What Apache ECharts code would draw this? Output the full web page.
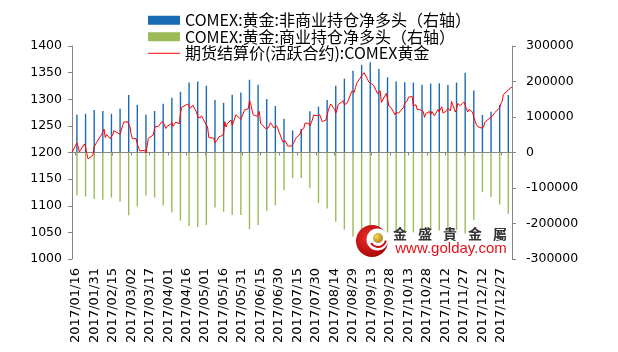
<!DOCTYPE html>
<html>
<head>
<meta charset="utf-8">
<script src="https://cdn.jsdelivr.net/npm/echarts@6/dist/echarts.min.js"></script>
<style>
  html, body { margin: 0; padding: 0; background: #fff; }
  #chart { width: 618px; height: 352px; }
</style>
</head>
<body>
<div id="chart"></div>
<script>
// axis runs day by day, labels every 15 days from 2017/01/16
const axisStart = '2017-01-13';
const axisDays = 358;

// COT net positions, weekly (Tuesdays) from 2017-01-17
const cotStart = '2017-01-17';
const nonCommNet = [
  106000, 109000, 120000, 117000, 109000, 123000, 162000, 134000, 106000, 117000,
  137000, 154000, 171000, 197000, 200000, 188000, 148000, 140000, 163000, 169000,
  205000, 191000, 151000, 131000, 95000, 62000, 67000, 116000, 129000, 148000,
  188000, 208000, 230000, 247000, 254000, 235000, 212000, 200000, 198000, 197000,
  191000, 194000, 195000, 190000, 197000, 225000, 175000, 106000, 115000, 134000,
  162000
];
const commNet = [
  -121000, -124000, -131000, -133000, -127000, -139000, -177000, -152000, -121000, -127000,
  -149000, -169000, -192000, -207000, -210000, -204000, -155000, -167000, -176000, -176000,
  -216000, -204000, -164000, -149000, -106000, -72000, -72000, -101000, -142000, -158000,
  -195000, -217000, -237000, -245000, -252000, -242000, -225000, -220000, -222000, -225000,
  -215000, -220000, -220000, -215000, -218000, -228000, -190000, -112000, -125000, -147000,
  -173000
];

// settlement price, one value per weekday (null = no settlement)
const priceJan = [1200, null, 1218, 1211, 1201, 1205, 1216, 1211, 1198, 1188, 1191, 1195, 1211];
const priceFeb = [1209, 1219, 1220, 1234, 1236, 1244, 1228, 1234, 1226, 1228, 1233, 1241, 1239, null, 1234, 1237, 1250, 1257, 1258, 1253];
const priceMar = [1249, 1234, 1226, 1226, 1216, 1209, 1203, 1202, 1204, 1199, 1201, 1227, 1230, 1233, 1245, 1249, 1248, 1249, 1258, 1256, 1253, 1245, 1249];
const priceApr = [1253, 1257, 1249, 1253, 1257, 1254, 1274, 1285, 1288, null, 1291, 1290, 1283, 1284, 1289, 1276, 1267, 1268, 1265, 1269];
const priceMay = [1256, 1256, 1248, 1228, 1228, 1227, 1218, 1221, 1224, 1229, 1232, 1236, 1258, 1248, 1254, 1261, 1251, 1257, 1256, 1271, null, 1262, 1268];
const priceJun = [1270, 1280, 1282, 1297, 1292, 1280, 1271, 1268, 1268, 1277, 1255, 1256, 1245, 1243, 1246, 1250, 1256, 1246, 1248, 1250, 1245, 1242];
const priceJul = [1220, null, 1222, 1224, 1212, 1212, 1214, 1219, 1218, 1228, 1234, 1242, 1241, 1245, 1255, 1255, 1250, 1250, 1261, 1270, 1269];
const priceAug = [1270, 1271, 1268, 1258, 1261, 1262, 1279, 1286, 1291, 1281, 1274, 1280, 1290, 1291, 1297, 1290, 1291, 1292, 1297, 1315, 1318, 1313, 1322];
const priceSep = [1330, null, 1344, 1344, 1350, 1351, 1332, 1334, 1329, 1329, 1325, 1310, 1311, 1316, 1294, 1297, 1311, 1301, 1288, 1287, 1284];
const priceOct = [1271, 1275, 1276, 1274, 1276, 1285, 1293, 1293, 1297, 1304, 1305, 1287, 1286, 1290, 1281, 1280, 1277, 1277, 1266, 1273, 1277, 1271];
const priceNov = [1277, 1278, 1269, 1281, 1276, 1282, 1286, 1274, 1278, 1283, 1281, 1278, 1296, 1276, 1281, 1292, null, 1288, 1295, 1294, 1283, 1276];
const priceDec = [1281, 1276, 1266, 1266, 1253, 1249, 1246, 1243, 1248, 1257, 1257, 1265, 1264, 1268, 1270, 1275, null, 1284, 1292, 1296, 1309];
const priceJan18 = [null, 1317, 1315, 1322, 1322];

const seriesNames = [
  'COMEX:黄金:非商业持仓净多头（右轴）',
  'COMEX:黄金:商业持仓净多头（右轴）',
  '期货结算价(活跃合约):COMEX黄金'
];

const DAY = 86400000;
const pad = (n) => (n < 10 ? '0' + n : '' + n);
const fmt = (t) => {
  const d = new Date(t);
  return d.getUTCFullYear() + '/' + pad(d.getUTCMonth() + 1) + '/' + pad(d.getUTCDate());
};

const t0 = Date.parse(axisStart + 'T00:00:00Z');
const categories = [];
for (let i = 0; i < axisDays; i++) categories.push(fmt(t0 + i * DAY));

// bars onto the day axis
const blueData = new Array(axisDays).fill(null);
const greenData = new Array(axisDays).fill(null);
const cotOffset = Math.round((Date.parse(cotStart + 'T00:00:00Z') - t0) / DAY);
nonCommNet.forEach((v, k) => { blueData[cotOffset + k * 7] = v; });
commNet.forEach((v, k) => { greenData[cotOffset + k * 7] = v; });

// prices onto weekdays
const prices = [].concat(priceJan, priceFeb, priceMar, priceApr, priceMay, priceJun,
  priceJul, priceAug, priceSep, priceOct, priceNov, priceDec, priceJan18);
const lineData = new Array(axisDays).fill(null);
let p = 0;
for (let i = 0; i < axisDays; i++) {
  const dow = new Date(t0 + i * DAY).getUTCDay();
  if (dow >= 1 && dow <= 5) lineData[i] = prices[p++];
}

const showTick = (idx) => idx >= 3 && (idx - 3) % 15 === 0;

const chart = echarts.init(document.getElementById('chart'));

// watermark logo (金盛贵金属)
const wmChars = ['金', '盛', '貴', '金', '屬'];
const wmGraphics = [
  { type: 'circle', shape: { cx: 372, cy: 241, r: 16 }, style: { fill: new echarts.graphic.RadialGradient(0.4, 0.4, 0.7, [{ offset: 0, color: '#f03030' }, { offset: 1, color: '#a00000' }]) }, z: 100 },
  { type: 'circle', shape: { cx: 377.5, cy: 239.5, r: 11 }, style: { fill: '#fff' }, z: 101 },
  { type: 'arc', shape: { cx: 378, cy: 239, r: 8, startAngle: 0.2, endAngle: 2.6 }, style: { stroke: '#d01010', lineWidth: 2, fill: null }, z: 102 },
  { type: 'circle', shape: { cx: 378, cy: 238, r: 5 }, style: { fill: new echarts.graphic.RadialGradient(0.35, 0.35, 0.8, [{ offset: 0, color: '#f4d45a' }, { offset: 1, color: '#a67c10' }]) }, z: 103 }
];
wmChars.forEach((c, i) => {
  wmGraphics.push({
    type: 'text', x: 400 + i * 25, y: 234, z: 100,
    style: { text: c, fill: '#333', font: 'bold 14px "Noto Sans CJK TC"', textAlign: 'center', textVerticalAlign: 'middle' }
  });
});
wmGraphics.push({
  type: 'text', x: 451, y: 248.5, z: 100,
  style: { text: 'www.golday.com', fill: '#e8101a', font: '15px "Liberation Sans"', textAlign: 'center', textVerticalAlign: 'middle' }
});

const plain = (v) => String(v);

const option = {
  animation: false,
  backgroundColor: '#fff',
  color: ['#1a6bb5', '#9bbb59', '#ff0000'],
  textStyle: { fontFamily: 'DejaVu Sans' },
  legend: {
    orient: 'vertical',
    left: 148,
    top: 12,
    padding: 0,
    itemWidth: 32,
    itemHeight: 9,
    itemGap: 0,
    symbolKeepAspect: true,
    textStyle: { fontFamily: 'Noto Sans CJK SC', fontSize: 16, lineHeight: 16.5, color: '#000' },
    data: [
      { name: seriesNames[0], icon: 'rect' },
      { name: seriesNames[1], icon: 'rect' },
      { name: seriesNames[2], icon: 'path://M0,0H32V1H0Z', itemStyle: { color: '#ff0000' } }
    ]
  },
  grid: { left: 72, right: 106, top: 46, bottom: 93 },
  xAxis: {
    type: 'category',
    data: categories,
    boundaryGap: false,
    axisLine: { lineStyle: { color: '#868686', width: 1 } },
    axisTick: { interval: showTick, length: 3, lineStyle: { color: '#868686' } },
    axisLabel: { interval: showTick, rotate: 90, margin: 9, fontSize: 13, color: '#000', fontFamily: 'DejaVu Sans' },
    splitLine: { show: false }
  },
  yAxis: [
    {
      type: 'value', min: 1000, max: 1400, interval: 50,
      axisLine: { show: true, lineStyle: { color: '#868686' } },
      axisTick: { show: true, length: 4, lineStyle: { color: '#868686' } },
      axisLabel: { margin: 10, fontSize: 12.5, color: '#000', formatter: plain },
      splitLine: { show: false }
    },
    {
      type: 'value', min: -300000, max: 300000, interval: 100000,
      axisLine: { show: true, lineStyle: { color: '#868686' } },
      axisTick: { show: true, length: 4, lineStyle: { color: '#868686' } },
      axisLabel: { margin: 14, fontSize: 12.5, color: '#000', formatter: plain },
      splitLine: { show: false }
    }
  ],
  series: [
    { name: seriesNames[0], type: 'bar', yAxisIndex: 1, data: blueData, barWidth: 1.4, barGap: '-100%', itemStyle: { color: '#1a6bb5' } },
    { name: seriesNames[1], type: 'bar', yAxisIndex: 1, data: greenData, barWidth: 1.4, barGap: '-100%', itemStyle: { color: '#9bbb59' } },
    {
      name: seriesNames[2], type: 'line', yAxisIndex: 0, data: lineData,
      symbol: 'none', connectNulls: true, z: 5,
      lineStyle: { color: '#ff0000', width: 1 }
    }
  ],
  graphic: wmGraphics
};

chart.setOption(option);
</script>
</body>
</html>
